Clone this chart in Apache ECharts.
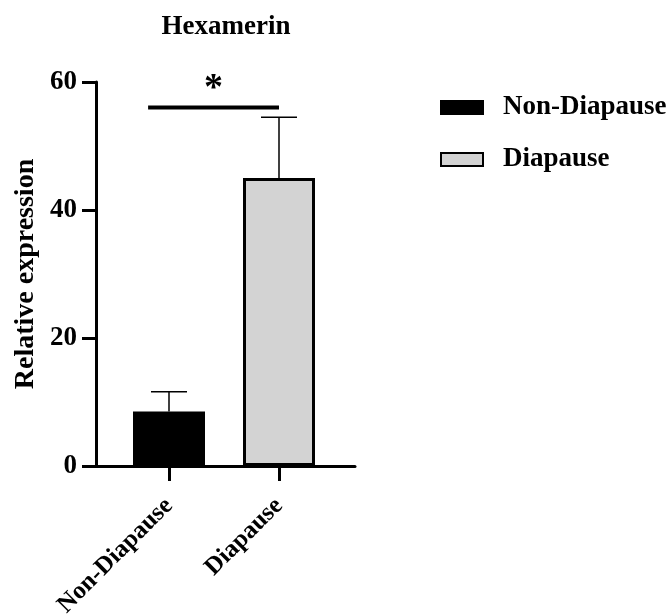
<!DOCTYPE html>
<html><head><meta charset="utf-8">
<script src="https://cdn.jsdelivr.net/npm/echarts@6/dist/echarts.min.js"></script>
<style>html,body{margin:0;padding:0;background:#fff}#c{width:670px;height:614px}</style>
</head><body><div id="c"></div>
<script>
var categories = ['Non-Diapause', 'Diapause'];
var means = [8.5, 45];
var errors = [3.1, 9.5];
var yTicks = [0, 20, 40, 60];
var sig = { label: '*', y: 56, fromOffset: -0.19, toCat: 1 };
var FONT = '"Liberation Serif", "Times New Roman", serif';

var chart = echarts.init(document.getElementById('c'));
var T = 82, B = 148;
chart.setOption({
  animation: false,
  backgroundColor: '#fff',
  title: { text: 'Hexamerin', left: 221, top: 9, textAlign: 'center',
    textStyle: { fontFamily: FONT, fontWeight: 'bold', fontSize: 27, color: '#000' } },
  legend: {
    orient: 'vertical', left: 435, top: 89, itemWidth: 42, itemHeight: 13, itemGap: 25,
    icon: 'rect',
    textStyle: { fontFamily: FONT, fontWeight: 'bold', fontSize: 27, color: '#000', padding: [0, 0, 0, 15] },
    data: categories
  },
  grid: [
    { left: 114, right: 336, top: T, bottom: B, containLabel: false, outerBoundsMode: 'none' },
    { left: 96, right: 315, top: T, bottom: B, containLabel: false, outerBoundsMode: 'none' }
  ],
  xAxis: [
    { type: 'category', gridIndex: 0, data: categories,
      axisLine: { show: false },
      axisTick: { show: true, alignWithLabel: true, length: 15, lineStyle: { color: '#000', width: 3 } },
      axisLabel: { rotate: 45, margin: 36, fontFamily: FONT, fontWeight: 'bold', fontSize: 25, color: '#000', interval: 0 } },
    { type: 'value', gridIndex: 1, min: 0, max: 1,
      axisLine: { show: true, lineStyle: { color: '#000', width: 3 } },
      axisTick: { show: false }, axisLabel: { show: false }, splitLine: { show: false } }
  ],
  yAxis: [
    { type: 'value', gridIndex: 0, min: 0, max: 60, interval: 20, show: false, splitLine: { show: false } },
    { type: 'value', gridIndex: 1, min: yTicks[0], max: yTicks[yTicks.length - 1], interval: 20,
      name: 'Relative expression', nameLocation: 'middle', nameGap: 56, nameRotate: 90,
      nameTextStyle: { fontFamily: FONT, fontWeight: 'bold', fontSize: 28, color: '#000' },
      axisLine: { show: true, lineStyle: { color: '#000', width: 3 } },
      axisTick: { show: true, length: 14, lineStyle: { color: '#000', width: 3 } },
      axisLabel: { margin: 19, fontFamily: FONT, fontWeight: 'bold', fontSize: 27, color: '#000' },
      splitLine: { show: false } }
  ],
  series: [
    { name: categories[0], type: 'bar', xAxisIndex: 0, yAxisIndex: 0, barWidth: 72, barGap: '-100%',
      data: [means[0], '-'], itemStyle: { color: '#000', borderColor: '#000', borderWidth: 3 }, z: 2 },
    { name: categories[1], type: 'bar', xAxisIndex: 0, yAxisIndex: 0, barWidth: 72, barGap: '-100%',
      data: ['-', means[1]], itemStyle: { color: '#d3d3d3', borderColor: '#000', borderWidth: 3 }, z: 2 },
    { type: 'custom', xAxisIndex: 0, yAxisIndex: 0, z: 1,
      data: means.map(function (m, i) { return [i, m, errors[i]]; }),
      renderItem: function (params, api) {
        var top = api.coord([api.value(0), api.value(1) + api.value(2)]);
        var base = api.coord([api.value(0), api.value(1)]);
        var hw = 18;
        return { type: 'group', children: [
          { type: 'line', shape: { x1: base[0], y1: base[1], x2: top[0], y2: top[1] }, style: { stroke: '#000', lineWidth: 1.5 } },
          { type: 'line', shape: { x1: top[0] - hw, y1: top[1], x2: top[0] + hw, y2: top[1] }, style: { stroke: '#000', lineWidth: 1.5 } }
        ] };
      } },
    { type: 'custom', xAxisIndex: 0, yAxisIndex: 0, z: 3,
      data: [[0, sig.y]],
      renderItem: function (params, api) {
        var bw = api.size([1, 0])[0];
        var p0 = api.coord([0, sig.y]);
        var p1 = api.coord([sig.toCat, sig.y]);
        var x1 = p0[0] + sig.fromOffset * bw;
        var x2 = p1[0];
        return { type: 'group', children: [
          { type: 'line', shape: { x1: x1, y1: p0[1], x2: x2, y2: p0[1] }, style: { stroke: '#000', lineWidth: 4 } },
          { type: 'text', style: { text: sig.label, x: (x1 + x2) / 2, y: p0[1] + 1, align: 'center', verticalAlign: 'bottom',
            font: 'bold 38px ' + FONT, fill: '#000' } }
        ] };
      } }
  ]
});
</script></body></html>
